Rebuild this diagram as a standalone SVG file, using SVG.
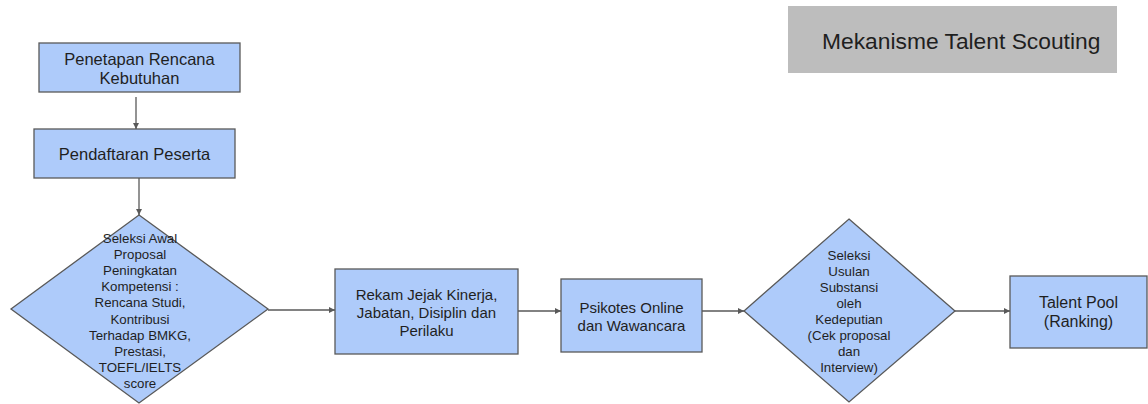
<svg xmlns="http://www.w3.org/2000/svg" width="1148" height="404" viewBox="0 0 1148 404">
<defs>
<style>
.n{fill:#aecbfa;stroke:#595959;stroke-width:1.3}
.t{font-family:"Liberation Sans",Arial,sans-serif;fill:#1f1f1f;text-anchor:middle}
.c{stroke:#595959;stroke-width:1.3;fill:none;marker-end:url(#ah)}
</style>
<marker id="ah" viewBox="0 0 10 10" refX="10" refY="5" markerWidth="6" markerHeight="6" markerUnits="userSpaceOnUse" orient="auto">
<path d="M0,0L10,5L0,10z" fill="#595959"/>
</marker>
</defs>
<rect width="1148" height="404" fill="#ffffff"/>
<g id="title">
<rect x="788" y="6" width="329" height="67" fill="#bdbdbd"/>
<text x="822" y="49" font-family="Liberation Sans, Arial, sans-serif" font-size="22.8" fill="#1f1f1f">Mekanisme Talent Scouting</text>
</g>
<g id="connectors">
<path class="c" d="M136,97V129"/>
<path class="c" d="M139,178V215"/>
<path class="c" d="M268,310H335"/>
<path class="c" d="M518,311H561"/>
<path class="c" d="M702,311H744"/>
<path class="c" d="M955,311H1010"/>
</g>
<g id="n1">
<rect class="n" x="39" y="43" width="201" height="49"/>
<text class="t" font-size="16.5"><tspan x="139.5" y="65">Penetapan Rencana</tspan><tspan x="139.5" y="84">Kebutuhan</tspan></text>
</g>
<g id="n2">
<rect class="n" x="34" y="129" width="201" height="49"/>
<text class="t" font-size="16.5" x="134.5" y="160">Pendaftaran Peserta</text>
</g>
<g id="n3">
<path class="n" d="M139,215L268,309L139,403L11,309Z"/>
<text class="t" font-size="13.3"><tspan x="140" y="243">Seleksi Awal</tspan><tspan x="140" y="259.1">Proposal</tspan><tspan x="140" y="275.2">Peningkatan</tspan><tspan x="140" y="291.3">Kompetensi :</tspan><tspan x="140" y="307.4">Rencana Studi,</tspan><tspan x="140" y="323.5">Kontribusi</tspan><tspan x="140" y="339.6">Terhadap BMKG,</tspan><tspan x="140" y="355.7">Prestasi,</tspan><tspan x="140" y="371.8">TOEFL/IELTS</tspan><tspan x="140" y="387.9">score</tspan></text>
</g>
<g id="n4">
<rect class="n" x="335" y="269" width="183" height="85"/>
<text class="t" font-size="15"><tspan x="426.5" y="300">Rekam Jejak Kinerja,</tspan><tspan x="426.5" y="318">Jabatan, Disiplin dan</tspan><tspan x="426.5" y="336">Perilaku</tspan></text>
</g>
<g id="n5">
<rect class="n" x="561" y="279" width="141" height="73"/>
<text class="t" font-size="15"><tspan x="631.5" y="313">Psikotes Online</tspan><tspan x="631.5" y="331">dan Wawancara</tspan></text>
</g>
<g id="n6">
<path class="n" d="M849,219L955,311L849,402L744,311Z"/>
<text class="t" font-size="13.3"><tspan x="849" y="259.5">Seleksi</tspan><tspan x="849" y="275.5">Usulan</tspan><tspan x="849" y="291.5">Substansi</tspan><tspan x="849" y="307.5">oleh</tspan><tspan x="849" y="323.5">Kedeputian</tspan><tspan x="849" y="339.5">(Cek proposal</tspan><tspan x="849" y="355.5">dan</tspan><tspan x="849" y="371.5">Interview)</tspan></text>
</g>
<g id="n7">
<rect class="n" x="1010" y="276" width="137" height="72"/>
<text class="t" font-size="16"><tspan x="1078.5" y="308">Talent Pool</tspan><tspan x="1078.5" y="327">(Ranking)</tspan></text>
</g>
</svg>
